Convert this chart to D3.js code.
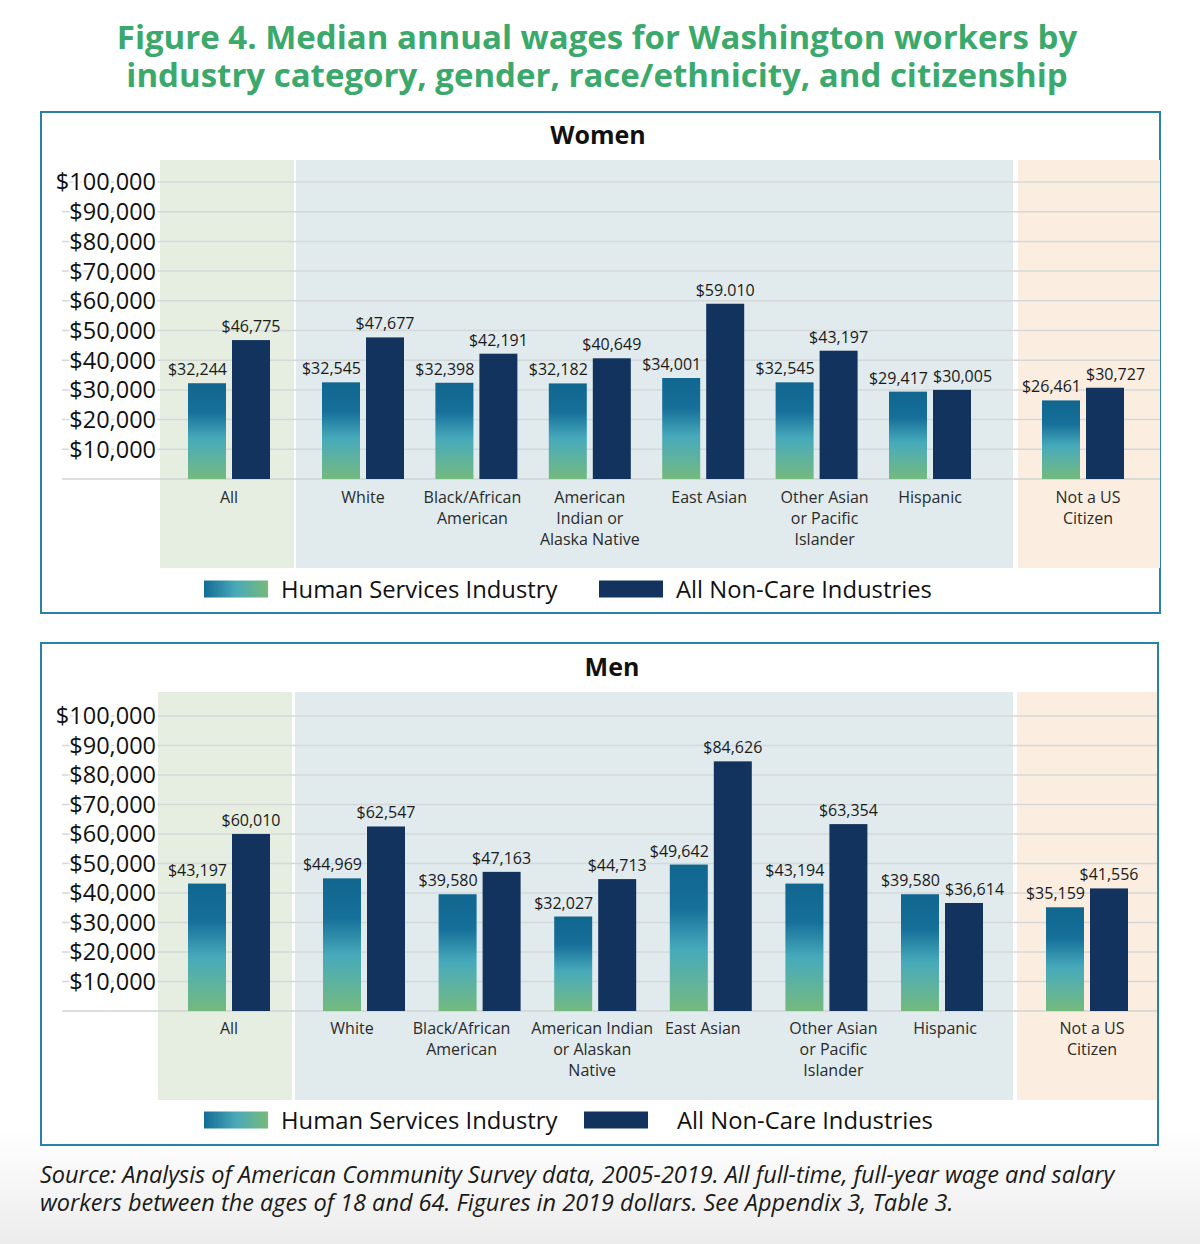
<!DOCTYPE html>
<html>
<head>
<meta charset="utf-8">
<script src="https://cdn.jsdelivr.net/npm/d3@7"></script>
<style>
  html, body { margin: 0; padding: 0; background: #fff; }
  svg { display: block; }
  text { font-family: "Open Sans", "Noto Sans", sans-serif; }
</style>
</head>
<body>
<svg id="chart" width="1200" height="1244"></svg>
<script>
// ---------------- DATA ----------------
const categories = ["All", "White", "Black", "AmInd", "EastAsian", "OtherAsian", "Hispanic", "NotCitizen"];
const womenCategoryLabels = ["All", "White", "Black/African\nAmerican", "American\nIndian or\nAlaska Native", "East Asian", "Other Asian\nor Pacific\nIslander", "Hispanic", "Not a US\nCitizen"];
const menCategoryLabels = ["All", "White", "Black/African\nAmerican", "American Indian\nor Alaskan\nNative", "East Asian", "Other Asian\nor Pacific\nIslander", "Hispanic", "Not a US\nCitizen"];
const womenHumanServices = [32244, 32545, 32398, 32182, 34001, 32545, 29417, 26461];
const womenNonCare = [46775, 47677, 42191, 40649, 59010, 43197, 30005, 30727];
const menHumanServices = [43197, 44969, 39580, 32027, 49642, 43194, 39580, 35159];
const menNonCare = [60010, 62547, 47163, 44713, 84626, 63354, 36614, 41556];
// value label text as printed in the source (one label uses a period)
const womenNonCareText = ["$46,775", "$47,677", "$42,191", "$40,649", "$59.010", "$43,197", "$30,005", "$30,727"];
const yTicks = [10000, 20000, 30000, 40000, 50000, 60000, 70000, 80000, 90000, 100000];
const seriesNames = ["Human Services Industry", "All Non-Care Industries"];
const titleLines = ["Figure 4. Median annual wages for Washington workers by", "industry category, gender, race/ethnicity, and citizenship"];
const sourceLines = ["Source: Analysis of American Community Survey data, 2005-2019. All full-time, full-year wage and salary", "workers between the ages of 18 and 64. Figures in 2019 dollars. See Appendix 3, Table 3."];

// ---------------- STYLE / LAYOUT ----------------
const NAVY = "#13335f";
const TITLE_GREEN = "#3aa96b";
const BOX = "#2a80a8";
const fmt = d3.format("$,");

const svg = d3.select("#chart");
const defs = svg.append("defs");

const bg = defs.append("linearGradient").attr("id", "pagebg").attr("x1", 0).attr("y1", 0).attr("x2", 0).attr("y2", 1);
bg.append("stop").attr("offset", "0%").attr("stop-color", "#ffffff");
bg.append("stop").attr("offset", "100%").attr("stop-color", "#ececec");

const vg = defs.append("linearGradient").attr("id", "barGrad").attr("x1", 0).attr("y1", 0).attr("x2", 0).attr("y2", 1);
[["0%", "#10668f"], ["30%", "#16709a"], ["58%", "#47aabb"], ["78%", "#5db2a0"], ["100%", "#74ba7e"]]
  .forEach(s => vg.append("stop").attr("offset", s[0]).attr("stop-color", s[1]));
const hg = defs.append("linearGradient").attr("id", "legGrad").attr("x1", 0).attr("y1", 0).attr("x2", 1).attr("y2", 0);
[["0%", "#136c95"], ["50%", "#49a9b9"], ["100%", "#76ba79"]]
  .forEach(s => hg.append("stop").attr("offset", s[0]).attr("stop-color", s[1]));

svg.append("rect").attr("x", 0).attr("y", 1130).attr("width", 1200).attr("height", 114).attr("fill", "url(#pagebg)");

// Title
svg.append("text").attr("x", 597).attr("text-anchor", "middle").attr("fill", TITLE_GREEN)
  .attr("font-size", 33).attr("font-weight", 700)
  .selectAll("tspan").data(titleLines).join("tspan")
  .attr("x", 597).attr("y", (d, i) => 49 + i * 38).text(d => d);

const panels = [
  { name: "Women", hs: womenHumanServices, nc: womenNonCare, ncText: womenNonCareText, labels: womenCategoryLabels,
    box: [41, 112, 1160, 613], titleY: 144, titleX: 598,
    base: 479, top: 182, regY: [160, 568],
    regions: [[160, 294, "#e5eee0"], [296, 1013, "#e1ebee"], [1018, 1160, "#fbeee0"]],
    allC: 229, mid: [363, 930], notC: 1083, catY: 503,
    labelShift: [0, 0, -4, 0, 6, 8, 0, 5],
    legY: 589, leg: [204, 281, 599, 676] },
  { name: "Men", hs: menHumanServices, nc: menNonCare, ncText: null, labels: menCategoryLabels,
    box: [41, 643, 1158, 1145], titleY: 676, titleX: 612,
    base: 1011, top: 716, regY: [692, 1100],
    regions: [[158, 292, "#e5eee0"], [295, 1013, "#e1ebee"], [1017, 1157, "#fbeee0"]],
    allC: 229, mid: [364, 942], notC: 1087, catY: 1034,
    labelShift: [0, -12, -18, -3, -8, 7, 3, 5],
    legY: 1120, leg: [204, 281, 584, 677] }
];

panels.forEach(p => {
  const g = svg.append("g");
  // frame
  g.append("rect").attr("x", p.box[0]).attr("y", p.box[1])
    .attr("width", p.box[2] - p.box[0]).attr("height", p.box[3] - p.box[1])
    .attr("fill", "#fff").attr("stroke", BOX).attr("stroke-width", 2);
  g.append("text").attr("x", p.titleX).attr("y", p.titleY).attr("text-anchor", "middle")
    .attr("font-size", 25).attr("font-weight", 700).attr("fill", "#111").text(p.name);
  // background regions
  g.selectAll("rect.reg").data(p.regions).join("rect").attr("class", "reg")
    .attr("x", d => d[0]).attr("y", p.regY[0]).attr("width", d => d[1] - d[0])
    .attr("height", p.regY[1] - p.regY[0]).attr("fill", d => d[2]);

  const y = d3.scaleLinear().domain([0, 100000]).range([p.base, p.top]);
  const mid = d3.scalePoint().domain(categories.slice(1, 7)).range(p.mid);
  const xc = c => c === "All" ? p.allC : (c === "NotCitizen" ? p.notC : mid(c));
  const inner = d3.scaleBand().domain(["hs", "nc"]).range([-41, 41]).paddingInner(0.1364);
  const gridRight = p.regions[2][1];

  // gridlines incl. baseline
  g.selectAll("line.grid").data([0].concat(yTicks)).join("line").attr("class", "grid")
    .attr("x1", 62).attr("x2", gridRight)
    .attr("y1", d => y(d)).attr("y2", d => y(d))
    .attr("stroke", d => d === 0 ? "#cfd3d4" : "#d4d8d9").attr("stroke-width", 1.5);
  // y tick labels
  g.selectAll("text.tick").data(yTicks).join("text").attr("class", "tick")
    .attr("x", 156).attr("y", d => y(d)).attr("dy", "0.36em")
    .attr("text-anchor", "end").attr("font-size", 23.5).attr("fill", "#111")
    .attr("stroke", "#fff").attr("stroke-width", 5).attr("paint-order", "stroke")
    .text(d => fmt(d));

  const rows = categories.map((c, i) => ({ c, i, hs: p.hs[i], nc: p.nc[i] }));
  // bars
  g.selectAll("rect.hs").data(rows).join("rect").attr("class", "hs")
    .attr("x", d => xc(d.c) + inner("hs")).attr("width", inner.bandwidth())
    .attr("y", d => y(d.hs)).attr("height", d => y(0) - y(d.hs))
    .attr("fill", "url(#barGrad)");
  g.selectAll("rect.nc").data(rows).join("rect").attr("class", "nc")
    .attr("x", d => xc(d.c) + inner("nc")).attr("width", inner.bandwidth())
    .attr("y", d => y(d.nc)).attr("height", d => y(0) - y(d.nc))
    .attr("fill", NAVY);
  // value labels
  g.selectAll("text.vhs").data(rows).join("text").attr("class", "vhs")
    .attr("x", d => xc(d.c) + inner("hs") + inner.bandwidth() + 1)
    .attr("y", d => y(d.hs) - 8).attr("text-anchor", "end")
    .attr("font-size", 16).attr("fill", "#1a1a1a").text(d => fmt(d.hs));
  g.selectAll("text.vnc").data(rows).join("text").attr("class", "vnc")
    .attr("x", d => Math.abs(d.nc - d.hs) < 5000 ? xc(d.c) + inner("nc") : xc(d.c) + inner("nc") + inner.bandwidth() / 2)
    .attr("y", d => y(d.nc) - 8)
    .attr("text-anchor", d => Math.abs(d.nc - d.hs) < 5000 ? "start" : "middle")
    .attr("font-size", 16).attr("fill", "#1a1a1a")
    .text(d => p.ncText ? p.ncText[d.i] : fmt(d.nc));
  // category labels
  const cl = g.selectAll("text.cat").data(rows).join("text").attr("class", "cat")
    .attr("x", d => xc(d.c) + p.labelShift[d.i]).attr("y", p.catY).attr("text-anchor", "middle")
    .attr("font-size", 16).attr("fill", "#2a2a2a");
  cl.selectAll("tspan").data(d => p.labels[d.i].split("\n").map(t => ({ t, x: xc(d.c) + p.labelShift[d.i] }))).join("tspan")
    .attr("x", t => t.x).attr("dy", (t, j) => j === 0 ? 0 : 21).text(t => t.t);

  // legend
  const L = p.leg;
  g.append("rect").attr("x", L[0]).attr("y", p.legY - 8.5).attr("width", 64).attr("height", 17).attr("fill", "url(#legGrad)");
  g.append("text").attr("x", L[1]).attr("y", p.legY).attr("dy", "0.36em").attr("font-size", 23.8).attr("fill", "#111").text(seriesNames[0]);
  g.append("rect").attr("x", L[2]).attr("y", p.legY - 8.5).attr("width", 64).attr("height", 17).attr("fill", NAVY);
  g.append("text").attr("x", L[3]).attr("y", p.legY).attr("dy", "0.36em").attr("font-size", 23.8).attr("fill", "#111").text(seriesNames[1]);
});

// source
svg.append("g").selectAll("text").data(sourceLines).join("text")
  .attr("x", 40).attr("y", (d, i) => 1183 + i * 28)
  .attr("font-size", 23.5).attr("font-style", "italic").attr("fill", "#1a1a1a")
  .text(d => d);
</script>
</body>
</html>
